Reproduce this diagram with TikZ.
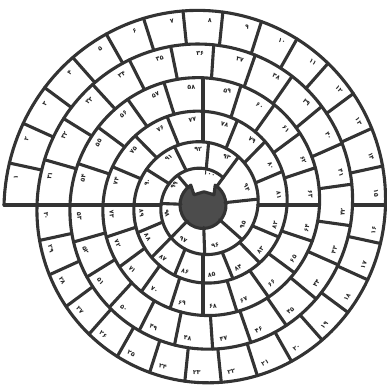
\documentclass[tikz,border=0pt]{standalone}
\usepackage{fontspec}
\newfontfamily\fafont[Script=Arabic]{DejaVu Sans}
\usetikzlibrary{calc}
\tikzset{
    wall/.style={line width=3.1pt, draw=black!80, line join=round, line cap=round},
    hub/.style={wall, fill=black!70},
    cellno/.style={font=\fafont\bfseries\fontsize{6.3}{6.3}\selectfont, inner sep=0pt, text=black!85},
}
\newcommand\fadig[1]{\ifcase#1 ۰\or ۱\or ۲\or ۳\or ۴\or ۵\or ۶\or ۷\or ۸\or ۹\fi}
\newcommand\fanum[1]{%
    \pgfmathtruncatemacro\tn{#1/10}%
    \pgfmathtruncatemacro\on{#1-10*\tn}%
    \ifnum#1=100 ۱۰۰\else\ifnum#1<10 \fadig{\on}\else\fadig{\tn}\fadig{\on}\fi\fi}

\begin{document}
\begin{tikzpicture}[x=1pt, y=1.02pt,
    declare function={
        sq(\u)=max(\u/360-3,0);
        sr(\u)=199-33*(\u/360)+2*sq(\u)*sq(\u);
        ri(\u)=ifthenelse(\u+360<=1927,sr(\u+360),22);
    }]
    \useasboundingbox (-203pt,-187pt) rectangle (184pt,205pt);
    % centre disc, notched by the last square
    \path[hub] (58:23) arc[start angle=58, end angle=-238, radius=23]
        -- (-9,10) -- (1,13) -- (11,10) -- cycle;
    \draw[wall] plot[variable=\p, domain=0:1927, samples=965] ({180-\p}:{sr(\p)});
    \foreach \st/\cw/\ca/\cb in {0/12/1/30, 360/15.6522/31/53, 720/18/54/73,
            1080/22.5/74/89, 1440/31.75/90/93, 1567/47/94/99, 1849/78/100/100}{
        \foreach \n in {\ca,...,\cb}{
            \pgfmathsetmacro\ps{\st+(\n-\ca)*\cw}
            \pgfmathsetmacro\pl{\ps+0.68*\cw}
            \pgfmathsetmacro\rl{sr(\pl)-0.28*(sr(\pl)-ri(\pl))}
            \pgfmathsetmacro\ang{mod(180-\pl+3600,360)}
            \pgfmathsetmacro\rot{\ang>180 ? \ang-270 : \ang-90}
            \draw[wall] ({180-\ps}:{sr(\ps)}) -- ({180-\ps}:{ri(\ps)});
            \node[cellno, rotate=\rot] (c\n) at ({180-\pl}:\rl) {\fanum{\n}};
        }
    }
    \draw[wall] ({180-1927}:{sr(1927)}) -- ({180-1927}:23);
\end{tikzpicture}
\end{document}
